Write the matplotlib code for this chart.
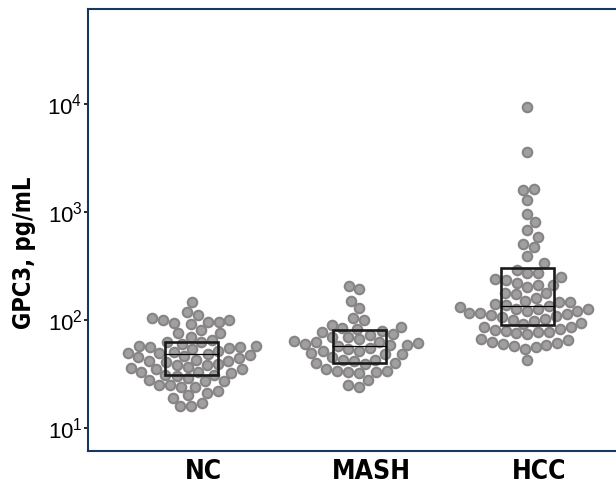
import numpy as np
import matplotlib
matplotlib.use('Agg')
import matplotlib.pyplot as plt
import matplotlib.transforms as mtransforms
from matplotlib.patches import Rectangle
from matplotlib.ticker import LogLocator, LogFormatterMathtext, NullLocator

# values (pg/mL)
groups = ['NC', 'MASH', 'HCC']

nc_values = [148, 119, 111, 93, 100, 96, 96, 92, 101, 105, 76, 80, 70, 75, 57, 51,
             62, 65, 56, 56, 54, 57, 47, 49, 46, 44, 49, 52, 39, 36, 42, 41, 35, 38,
             35, 37, 38, 31, 31, 33, 33, 30, 32, 27, 24, 25, 29, 24, 28, 27, 25, 22,
             21, 19, 20, 17, 16, 16, 60, 45, 42, 55, 48, 62, 43]

mash_values = [194, 207, 151, 128, 104, 100, 90, 83, 77, 84, 74, 87, 79, 69, 70, 61,
               63, 60, 64, 55, 59, 59, 52, 48, 49, 48, 42, 40, 43, 40, 43, 39, 34, 32,
               33, 35, 34, 33, 28, 25, 24, 66, 57, 52, 45, 72, 62, 54]

hcc_values = [9440, 3590, 1620, 1600, 1290, 957, 813, 681, 590, 505, 477, 392, 335,
              274, 274, 248, 238, 235, 211, 221, 211, 201, 177, 177, 159, 174, 148,
              148, 151, 135, 138, 126, 126, 126, 122, 131, 114, 111, 115, 107, 115,
              109, 98, 100, 94, 86, 82, 78, 81, 79, 75, 78, 87, 74, 63, 65, 66, 61,
              59, 60, 54, 56, 58, 43, 290, 140, 102, 92, 120]

box_q1 = [31, 40, 90]
box_median = [48, 57, 135]
box_q3 = [62, 81, 301]

all_values = [nc_values, mash_values, hcc_values]

plt.rcParams['font.family'] = ['Liberation Sans', 'DejaVu Sans']
plt.rcParams['mathtext.fontset'] = 'custom'
plt.rcParams['mathtext.rm'] = 'Liberation Sans'
plt.rcParams['mathtext.default'] = 'regular'

fig = plt.figure(figsize=(6.16, 4.94), dpi=100)
ax = fig.add_axes([88 / 616, 43 / 494, 528 / 616, 442 / 494])
ax.set_yscale('log')
ax.set_ylim(6.12, 75900)
ax.set_xlim(-0.616, 2.527)


def swarm_offsets(ypx, min_dist, step=0.25):
    # simple beeswarm: place each point as close to the centre as possible
    order = np.argsort(ypx)
    placed = []
    offs = np.zeros(len(ypx))
    for n, i in enumerate(order):
        y = ypx[i]
        first = 1 if n % 2 == 0 else -1
        found = None
        k = 0
        while found is None:
            for sign in ((first, -first) if k else (1,)):
                x = sign * k * step
                if all((x - px) ** 2 + (y - py) ** 2 >= min_dist ** 2 for px, py in placed):
                    found = x
                    break
            k += 1
        placed.append((found, y))
        offs[i] = found
    return offs


trans = ax.transData
px_per_unit = trans.transform((1, 10))[0] - trans.transform((0, 10))[0]

for gi, vals in enumerate(all_values):
    vals = np.array(vals, dtype=float)
    ypx = trans.transform(np.column_stack([np.full(len(vals), gi), vals]))[:, 1]
    offs = swarm_offsets(ypx, 11.0)
    xs = gi + offs / px_per_unit
    ax.scatter(xs, vals, s=47, facecolor='#a29ea2', edgecolor='#858585',
               linewidths=1.5, zorder=2, clip_on=False)

box_w = 0.32
for gi in range(len(groups)):
    ax.add_patch(Rectangle((gi - box_w / 2, box_q1[gi]), box_w, box_q3[gi] - box_q1[gi],
                           fill=False, ec='#1a1a1a', lw=1.9, zorder=3))
    ax.plot([gi - box_w / 2, gi + box_w / 2], [box_median[gi]] * 2,
            color='black', lw=0.9, zorder=3)

for side in ['top', 'left', 'bottom']:
    ax.spines[side].set_color('#17375e')
    ax.spines[side].set_linewidth(1.5)
ax.spines['right'].set_visible(False)

ax.yaxis.set_major_locator(LogLocator(base=10))
ax.yaxis.set_major_formatter(LogFormatterMathtext())
ax.yaxis.set_minor_locator(NullLocator())
ax.tick_params(axis='y', length=3, width=1.2, color='black', pad=1, labelsize=16)

ax.set_xticks(range(len(groups)))
ax.set_xticklabels(groups, fontfamily='DejaVu Sans', fontweight='bold',
                   fontstretch='condensed', fontsize=19)
ax.tick_params(axis='x', length=0, pad=6)
shift = mtransforms.ScaledTranslation(12 / 100, 0, fig.dpi_scale_trans)
for lab in ax.get_xticklabels():
    lab.set_transform(lab.get_transform() + shift)

ax.set_ylabel('GPC3, pg/mL', fontfamily='DejaVu Sans', fontweight='bold',
              fontstretch='condensed', fontsize=17, va='center')
ax.yaxis.set_label_coords(-0.121, 0.448)

fig.savefig('out.png', dpi=100)
